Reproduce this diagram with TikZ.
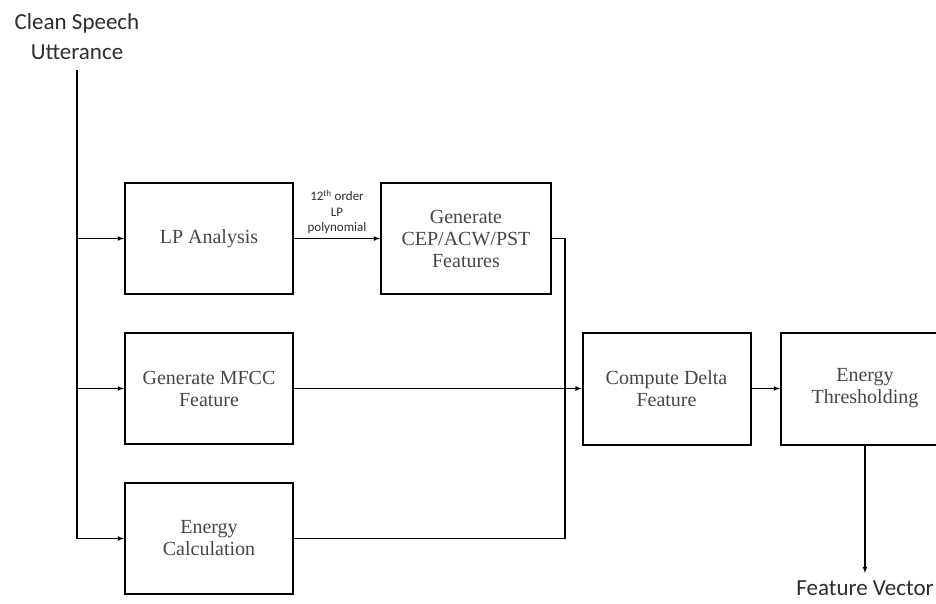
\documentclass[tikz,border=0pt]{standalone}
\usepackage{fontspec}
\setmainfont{Liberation Serif}
\newfontfamily\labelfont{Carlito}
\usetikzlibrary{positioning}
\usetikzlibrary{arrows}
\definecolor{boxtext}{RGB}{70,70,70}
\definecolor{labeltext}{RGB}{45,45,45}
\tikzstyle{every link} = []
\tikzstyle{link} = [->, >=latex, draw, line width=1.1pt, every link]
\tikzstyle{wire} = [draw, line width=1.1pt]
\tikzstyle{block} = [draw, line width=2pt, minimum width=168pt, minimum height=111pt,
    align=center, text=boxtext, font=\fontsize{20}{22}\selectfont]
\tikzstyle{sig} = [align=center, text=labeltext, font=\labelfont\fontsize{23}{30}\selectfont]

\begin{document}
\begin{tikzpicture}[x=1pt, y=-1pt, node distance=150pt]
        \useasboundingbox (0,0) rectangle (936,603);

        \node[sig] (speech) at (77,37) {Clean Speech\\Utterance};
        \coordinate (trunk) at (77,70);

        \node[block] (lp) at (209,238.5) {LP Analysis};
        \node[block] (mfcc) [below of=lp] {Generate MFCC\\Feature};
        \node[block] (energy) [below of=mfcc] {Energy\\Calculation};
        \node[block, minimum width=170pt] (cep) [right of=lp, node distance=257pt] {Generate\\CEP/ACW/PST\\Features};
        \node[block, minimum height=112pt] (delta) at (666.5,388.5) {Compute Delta\\Feature};
        \node[block, minimum height=112pt] (thresh) [right of=delta, node distance=198.5pt] {Energy\\Thresholding};
        \node[sig, anchor=north, inner sep=1pt] (vector) at (865,580) {Feature Vector};
        \coordinate (merge) at (565,388.5);

        % input branches
        \draw[wire] (trunk) -- (trunk |- energy.west);
        \draw[link] (trunk |- lp.west) -- (lp.west);
        \draw[link] (trunk |- mfcc.west) -- (mfcc.west);
        \draw[link] (trunk |- energy.west) -- (energy.west);

        \draw[link] (lp.east) -- node[above, align=center, inner sep=4pt, text=labeltext,
            font=\labelfont\fontsize{13}{15.5}\selectfont] {12\textsuperscript{th} order\\LP\\polynomial} (cep.west);

        % features into delta
        \draw[wire] (cep.east) -| (merge) |- (energy.east);
        \draw[link] (mfcc.east) -- (delta.west);
        \draw[link] (delta.east) -- (thresh.west);
        \draw[link, shorten >=7pt] (thresh.south) -- (vector.north);
\end{tikzpicture}
\end{document}
